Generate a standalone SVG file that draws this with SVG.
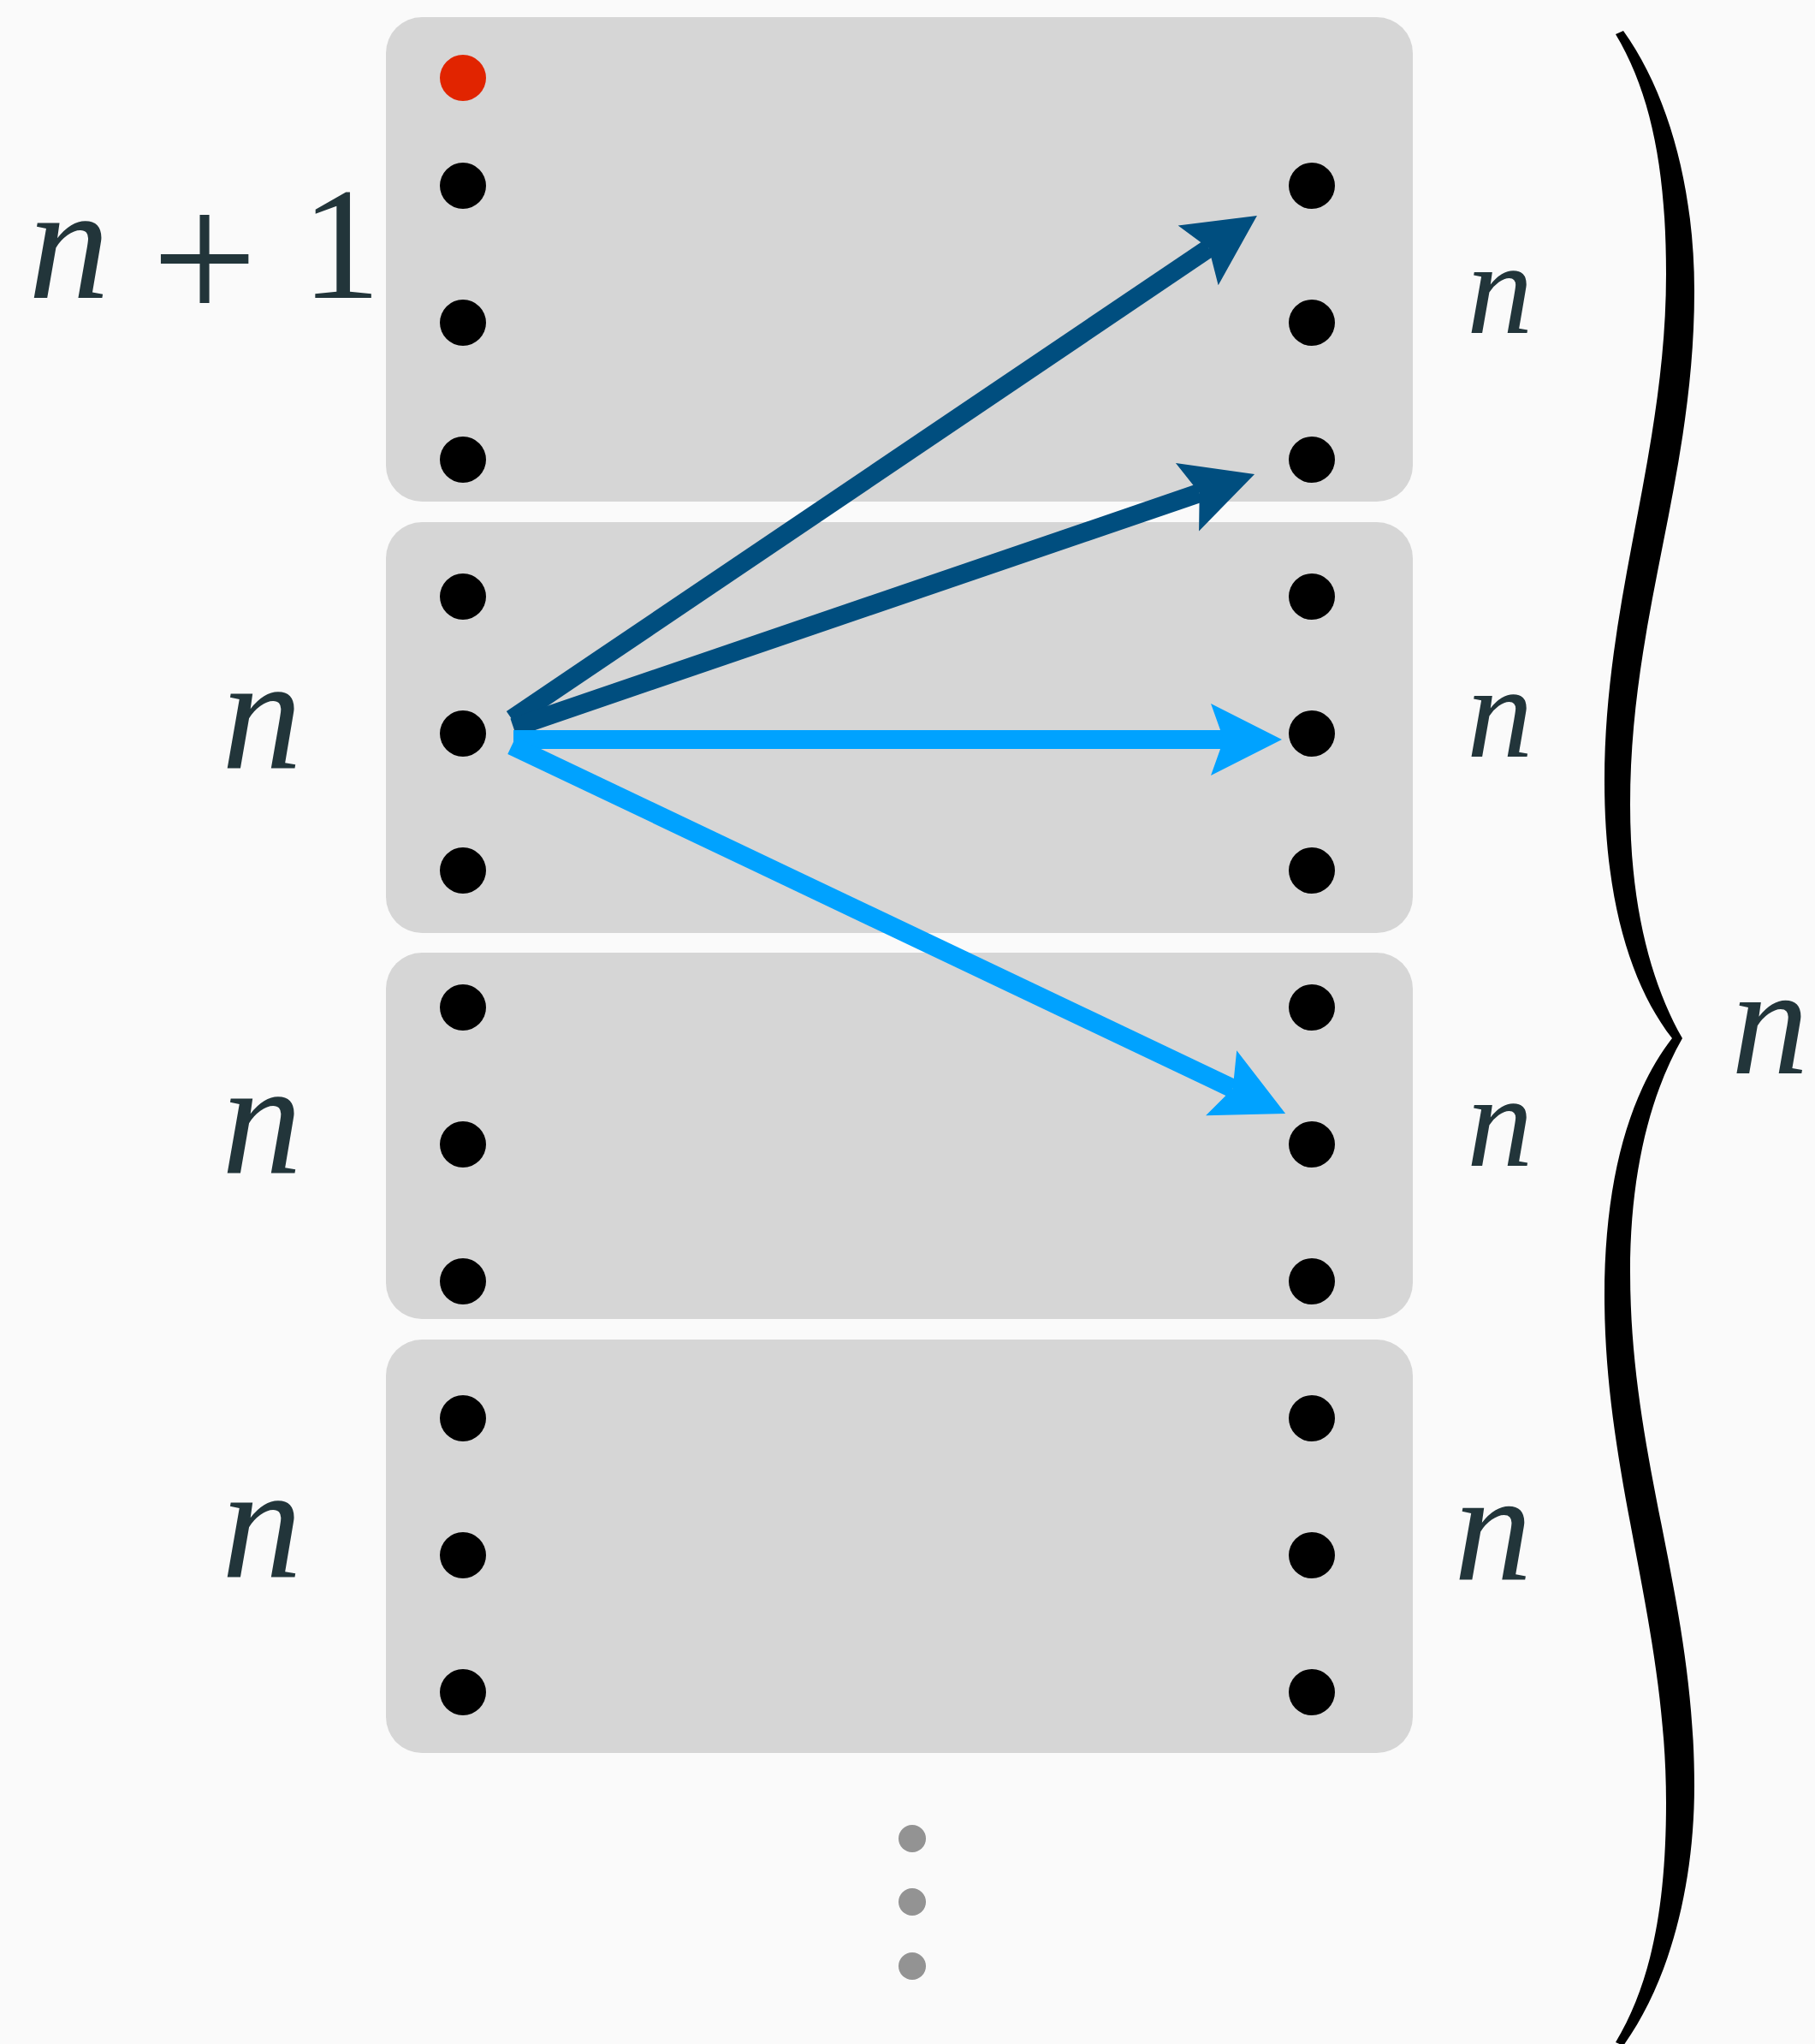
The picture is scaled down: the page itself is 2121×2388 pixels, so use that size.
<svg xmlns="http://www.w3.org/2000/svg" width="2121" height="2388" viewBox="0 0 2121 2388">
<style>
.box{fill:#d6d6d6}
.dot{fill:#000}
.red{fill:#e12400}
.gray{fill:#939393}
.dk{stroke:#004e7f;stroke-width:22;fill:none;marker-end:url(#ahd)}
.lt{stroke:#00a2ff;stroke-width:22;fill:none;marker-end:url(#ahl)}
</style>
<defs>
<marker id="ahd" markerUnits="userSpaceOnUse" markerWidth="100" markerHeight="100" viewBox="-5 -50 100 100" refX="15" refY="0" orient="auto" overflow="visible"><path d="M83,0 L0,-42 L15,0 L0,42 Z" fill="#004e7f"/></marker>
<marker id="ahl" markerUnits="userSpaceOnUse" markerWidth="100" markerHeight="100" viewBox="-5 -50 100 100" refX="15" refY="0" orient="auto" overflow="visible"><path d="M83,0 L0,-42 L15,0 L0,42 Z" fill="#00a2ff"/></marker>
</defs>
<rect width="2121" height="2388" fill="#fafafa"/>
<g id="block1"><rect class="box" x="451" y="20" width="1200" height="566" rx="42"/>
<circle class="red" cx="541" cy="91" r="27"/>
<circle class="dot" cx="541" cy="217" r="27"/><circle class="dot" cx="541" cy="377" r="27"/><circle class="dot" cx="541" cy="537" r="27"/>
<circle class="dot" cx="1533" cy="217" r="27"/><circle class="dot" cx="1533" cy="377" r="27"/><circle class="dot" cx="1533" cy="537" r="27"/>
</g>
<g id="block2"><rect class="box" x="451" y="610" width="1200" height="480" rx="42"/>
<circle class="dot" cx="541" cy="697" r="27"/><circle class="dot" cx="541" cy="857" r="27"/><circle class="dot" cx="541" cy="1017" r="27"/>
<circle class="dot" cx="1533" cy="697" r="27"/><circle class="dot" cx="1533" cy="857" r="27"/><circle class="dot" cx="1533" cy="1017" r="27"/>
</g>
<g id="block3"><rect class="box" x="451" y="1113" width="1200" height="428" rx="42"/>
<circle class="dot" cx="541" cy="1177" r="27"/><circle class="dot" cx="541" cy="1337" r="27"/><circle class="dot" cx="541" cy="1497" r="27"/>
<circle class="dot" cx="1533" cy="1177" r="27"/><circle class="dot" cx="1533" cy="1337" r="27"/><circle class="dot" cx="1533" cy="1497" r="27"/>
</g>
<g id="block4"><rect class="box" x="451" y="1565" width="1200" height="483" rx="42"/>
<circle class="dot" cx="541" cy="1657" r="27"/><circle class="dot" cx="541" cy="1817" r="27"/><circle class="dot" cx="541" cy="1977" r="27"/>
<circle class="dot" cx="1533" cy="1657" r="27"/><circle class="dot" cx="1533" cy="1817" r="27"/><circle class="dot" cx="1533" cy="1977" r="27"/>
</g>
<g id="ellipsis"><circle class="gray" cx="1066" cy="2148" r="16"/><circle class="gray" cx="1066" cy="2222" r="16"/><circle class="gray" cx="1066" cy="2297" r="16"/></g>
<g id="connectors">
<line class="dk" x1="598" y1="840" x2="1412.6" y2="290"/>
<line class="dk" x1="600" y1="850" x2="1401.7" y2="576"/>
<line class="lt" x1="600" y1="864" x2="1430" y2="864"/>
<line class="lt" x1="598" y1="871" x2="1440.7" y2="1271.7"/>
</g>
<g id="brace"><path fill="#000" d="M1897,36 C1950,110 1980,220 1980,340 C1980,560 1905,720 1905,940 C1905,1060 1930,1150 1966,1213 C1930,1276 1905,1366 1905,1486 C1905,1706 1980,1866 1980,2086 C1980,2206 1950,2316 1897,2390 L1888,2386 C1930,2316 1947,2226 1947,2106 C1947,1896 1875,1726 1875,1514 C1875,1376 1905,1276 1954,1213 C1905,1150 1875,1050 1875,912 C1875,700 1947,530 1947,320 C1947,200 1930,110 1888,40 Z"/></g>
<g id="labels" font-family="Liberation Serif, serif" fill="#22353a">
<text y="348"><tspan font-style="italic" x="33" font-size="190">n</tspan><tspan x="177" y="376" font-size="220">+</tspan><tspan x="352" y="348" font-size="186">1</tspan></text>
<text font-style="italic" x="259" y="897" font-size="188">n</text>
<text font-style="italic" x="259" y="1370" font-size="188">n</text>
<text font-style="italic" x="259" y="1842" font-size="188">n</text>
<text font-style="italic" x="1714" y="389" font-size="155">n</text>
<text font-style="italic" x="1714" y="884" font-size="155">n</text>
<text font-style="italic" x="1714" y="1362" font-size="155">n</text>
<text font-style="italic" x="1699" y="1846" font-size="183">n</text>
<text font-style="italic" x="2023" y="1254" font-size="181">n</text>
</g>
</svg>
